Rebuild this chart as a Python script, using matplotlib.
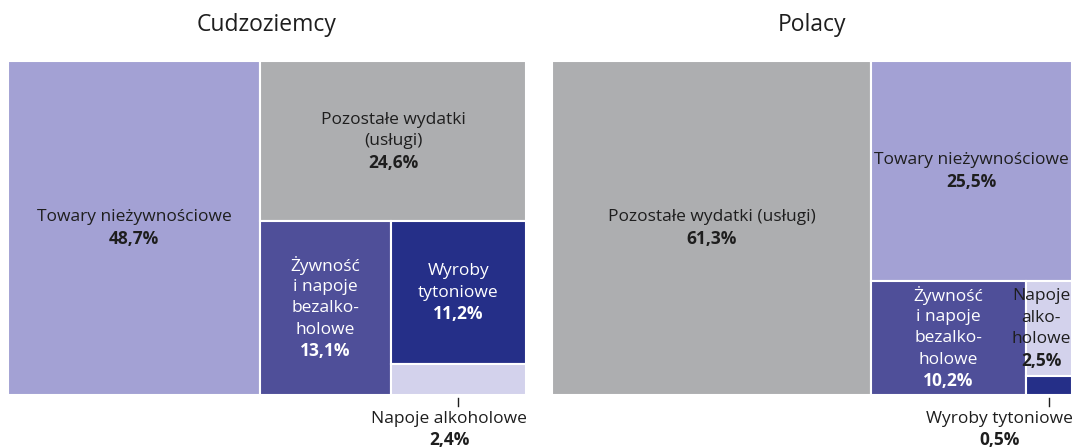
import matplotlib
matplotlib.use("Agg")
import matplotlib.pyplot as plt
from matplotlib.patches import Rectangle

plt.rcParams["font.family"] = ["Open Sans", "DejaVu Sans"]

# data
categories = ["Towary nieżywnościowe", "Pozostałe wydatki (usługi)",
              "Żywność i napoje bezalkoholowe", "Wyroby tytoniowe", "Napoje alkoholowe"]
cudzoziemcy = [48.7, 24.6, 13.1, 11.2, 2.4]
polacy = [25.5, 61.3, 10.2, 0.5, 2.5]

# wrapped labels as in the original
labels_cudz = ["Towary nieżywnościowe", "Pozostałe wydatki\n(usługi)",
               "Żywność\ni napoje\nbezalko-\nholowe", "Wyroby\ntytoniowe",
               "Napoje alkoholowe"]
labels_pol = ["Towary nieżywnościowe", "Pozostałe wydatki (usługi)",
              "Żywność\ni napoje\nbezalko-\nholowe", "Wyroby tytoniowe",
              "Napoje\nalko-\nholowe"]

colors = ["#a3a1d4", "#adaeb0", "#4f4f99", "#252f88", "#d3d2ec"]
text_colors = ["#1e1e1e", "#1e1e1e", "white", "white", "#1e1e1e"]


def worst(row, side):
    s = sum(row)
    return max(max(side * side * r / (s * s), s * s / (side * side * r)) for r in row)


def squarify(sizes, x, y, w, h):
    """sizes already scaled to area w*h; returns list of (x, y, w, h)."""
    if not sizes:
        return []
    if len(sizes) == 1:
        return [(x, y, w, h)]
    side = min(w, h)
    i = 1
    while i < len(sizes) and worst(sizes[:i + 1], side) <= worst(sizes[:i], side):
        i += 1
    row, rest = sizes[:i], sizes[i:]
    s = sum(row)
    rects = []
    if w >= h:
        cw = s / h
        yy = y
        for r in row:
            rects.append((x, yy, cw, r / cw))
            yy += r / cw
        return rects + squarify(rest, x + cw, y, w - cw, h)
    rh = s / w
    xx = x
    for r in row:
        rects.append((xx, y, r / rh, rh))
        xx += r / rh
    return rects + squarify(rest, x, y + rh, w, h - rh)


def fmt(v):
    return f"{v:.1f}%".replace(".", ",")


fig = plt.figure(figsize=(10.73, 4.47), dpi=100)
ax = fig.add_axes([0, 0, 1, 1])
ax.set_xlim(0, 1073)
ax.set_ylim(447, 0)
ax.axis("off")
renderer = fig.canvas.get_renderer()


def text_width(t):
    bb = t.get_window_extent(renderer)
    return bb.width


fs = 12.5
lh = 21.5

panels = [("Cudzoziemcy", cudzoziemcy, labels_cudz, (8, 61, 518, 334)),
          ("Polacy", polacy, labels_pol, (552, 61, 520, 334))]

for title, values, labels, (px, py, pw, ph) in panels:
    ax.text(px + pw / 2, 25, title, ha="center", va="center", fontsize=16.5, color="#1e1e1e")
    order = sorted(range(len(values)), key=lambda k: -values[k])
    total = sum(values)
    sizes = [values[k] / total * pw * ph for k in order]
    rects = squarify(sizes, px, py, pw, ph)
    for k, (x, y, w, h) in zip(order, rects):
        ax.add_patch(Rectangle((x, y), w, h, facecolor=colors[k], edgecolor="white", lw=1.5))
        if h > 40:
            lines = labels[k].split("\n") + [fmt(values[k])]
            n = len(lines)
            texts = []
            for j, line in enumerate(lines):
                texts.append(ax.text(x + w / 2, y + h / 2 + (j - (n - 1) / 2) * lh, line,
                                     ha="center", va="center", fontsize=fs,
                                     color=text_colors[k],
                                     fontweight="bold" if j == n - 1 else "normal"))
            # keep text inside the panel when the box is narrow
            widest = max(text_width(t) for t in texts)
            cx = min(x + w / 2, px + pw - widest / 2 - 1)
            for t in texts:
                t.set_x(cx)
        else:
            cx = x + w / 2
            ax.plot([cx, cx], [y + h + 3, y + h + 11], color="#1e1e1e", lw=1)
            t = ax.text(px + pw + 1, 419, labels[k], ha="right", va="center",
                        fontsize=fs, color="#1e1e1e")
            bb = t.get_window_extent(renderer)
            tx = ax.transData.inverted().transform([[(bb.x0 + bb.x1) / 2, 0]])[0][0]
            ax.text(tx, 440, fmt(values[k]), ha="center", va="center",
                    fontsize=fs, fontweight="bold", color="#1e1e1e")

fig.savefig("out.png", dpi=100)
